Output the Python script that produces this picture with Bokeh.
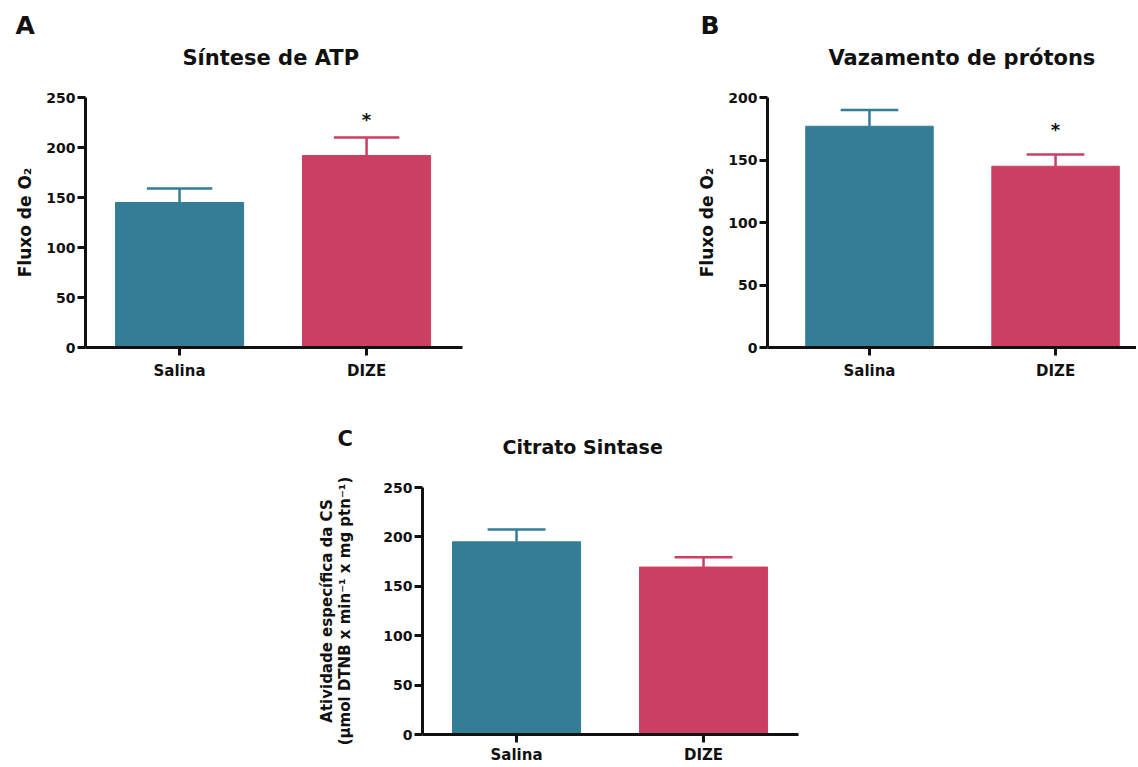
from bokeh.plotting import figure
from bokeh.models import Range1d, FixedTicker, ColumnDataSource, Title
from bokeh.layouts import column, row
from bokeh.embed import file_html
from bokeh.resources import INLINE
from bokeh.core.properties import value

# ---------------- data ----------------
categories = ["Salina", "DIZE"]

atp_mean = [145, 192]
atp_sem = [14, 18]
atp_sig = ["", "*"]

leak_mean = [177, 145]
leak_sem = [13, 9.5]
leak_sig = ["", "*"]

cs_mean = [195, 169.5]
cs_sem = [12.5, 10]
cs_sig = ["", ""]

ticks_250 = [0, 50, 100, 150, 200, 250]
ticks_200 = [0, 50, 100, 150, 200]

bar_colors = ["#347D96", "#CB3F62"]

FONT = "DejaVu Sans"
INK = "#111111"


def panel(title, letter, means, sems, sig, ymax, yticks, ylabel, xr,
          width, height, borders, title_size, title_offset, title_standoff,
          letter_size, letter_offset, letter_standoff, cap_w,
          ylabel_size, ylabel_standoff, star_offset=-18, xlabel_standoff=6):
    xs = [i + 1 for i in range(len(categories))]
    upper = [m + s for m, s in zip(means, sems)]
    src = ColumnDataSource(dict(
        x=xs, mean=means, upper=upper, color=bar_colors, sig=sig,
        x0=[x - cap_w / 2 for x in xs], x1=[x + cap_w / 2 for x in xs],
    ))
    p = figure(width=width, height=height,
               x_range=Range1d(xr[0], xr[1]), y_range=Range1d(0, ymax),
               output_backend="svg", toolbar_location=None,
               min_border_left=borders[0], min_border_right=borders[1],
               min_border_top=borders[2], min_border_bottom=borders[3],
               title=None)

    t = Title(text=title, align="left", offset=title_offset, standoff=title_standoff,
              text_font=FONT, text_font_style="bold",
              text_font_size=f"{title_size}px", text_color=INK)
    p.add_layout(t, "above")
    lt = Title(text=letter, align="left", offset=letter_offset, standoff=letter_standoff,
               text_font=FONT, text_font_style="bold",
               text_font_size=f"{letter_size}px", text_color=INK)
    p.add_layout(lt, "above")

    p.xgrid.visible = False
    p.ygrid.visible = False
    p.outline_line_color = None
    p.background_fill_color = "white"
    p.border_fill_color = "white"

    p.vbar(x="x", top="mean", bottom=0, width=0.685, source=src,
           fill_color="color", line_color="color", line_width=1)
    # error bars (upper half only, as in the original)
    p.segment(x0="x", y0="mean", x1="x", y1="upper", source=src,
              line_color="color", line_width=2.5)
    p.segment(x0="x0", y0="upper", x1="x1", y1="upper", source=src,
              line_color="color", line_width=2.5)
    p.text(x="x", y="upper", text="sig", source=src, text_align="center",
           text_baseline="alphabetic", y_offset=star_offset,
           text_font=value(FONT), text_font_style="bold",
           text_font_size="18px", text_color=INK)

    for ax in (p.xaxis[0], p.yaxis[0]):
        ax.axis_line_width = 3
        ax.axis_line_color = INK
        ax.major_tick_line_width = 3
        ax.major_tick_line_color = INK
        ax.major_tick_in = 0
        ax.minor_tick_in = 0
        ax.minor_tick_out = 0
        ax.major_label_text_font = FONT
        ax.major_label_text_font_style = "bold"
        ax.major_label_text_color = INK
        ax.axis_label_text_font = FONT
        ax.axis_label_text_font_style = "bold"
        ax.axis_label_text_color = INK

    p.yaxis.ticker = FixedTicker(ticks=yticks)
    p.yaxis.major_tick_out = 8
    p.yaxis.major_label_standoff = 2
    p.yaxis.major_label_text_font_size = "14px"
    p.yaxis.axis_label = ylabel
    p.yaxis.axis_label_text_font_size = f"{ylabel_size}px"
    p.yaxis.axis_label_text_line_height = 1.0
    p.yaxis.axis_label_standoff = ylabel_standoff

    p.xaxis.ticker = FixedTicker(ticks=xs)
    p.xaxis.major_label_overrides = {x: c for x, c in zip(xs, categories)}
    p.xaxis.major_tick_out = 8
    p.xaxis.major_label_standoff = xlabel_standoff
    p.xaxis.major_label_text_font_size = "15px"
    return p


pA = panel("Síntese de ATP", "A", atp_mean, atp_sem, atp_sig, 250, ticks_250,
           "Fluxo de O₂", (0.497, 2.513), 680, 398, (85, 218, 97, 51),
           21, 97, 56, 25, -70, -49, 0.35, 17, 8, star_offset=-18)

pB = panel("Vazamento de prótons", "B", leak_mean, leak_sem, leak_sig, 200, ticks_200,
           "Fluxo de O₂", (0.452, 2.435), 456, 398, (87, 0, 97, 51),
           21, 61, 56, 25, -67, -49, 0.31, 17, 8, star_offset=-25)

pC = panel("Citrato Sintase", "C", cs_mean, cs_sem, cs_sig, 250, ticks_250,
           "Atividade específica da CS\n(µmol DTNB x min⁻¹ x mg ptn⁻¹)",
           (0.497, 2.508), 818, 368, (422, 20, 89, 30),
           19, 80, 59, 21, -85, -92, 0.31, 15, 26, xlabel_standoff=3)

layout = column(row(pA, pB), pC)

open("out.html", "w").write(file_html(layout, INLINE))
